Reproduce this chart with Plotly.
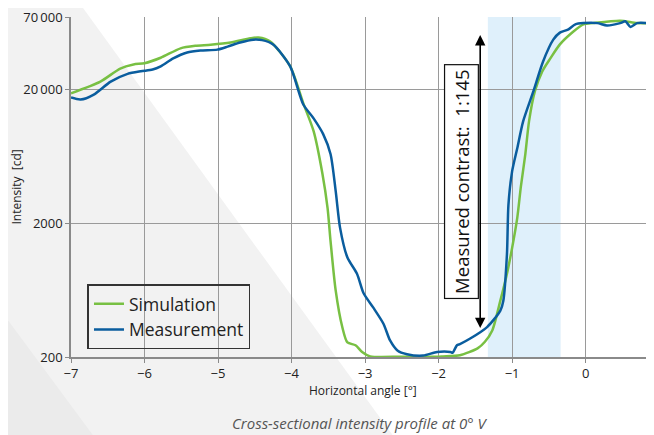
import math
import plotly.graph_objects as go

# ---- data ----
sim_x = [-7.0, -6.6, -6.33, -6.15, -6.0, -5.78, -5.51, -5.31, -5.10, -4.83, -4.56, -4.45, -4.29,
         -4.02, -3.84, -3.70, -3.58, -3.51, -3.47, -3.40, -3.31, -3.24, -3.13, -3.04, -2.93,
         -2.5, -2.0, -1.94, -1.71, -1.47, -1.37, -1.27, -1.16, -1.07, -1.0, -0.93, -0.88,
         -0.82, -0.77, -0.69, -0.59, -0.48, -0.35, -0.17, -0.03, 0.10, 0.47, 0.70, 0.93]
sim_y = [18800, 23000, 28800, 30900, 31600, 34700, 40800, 42600, 43400, 45100, 48500, 49100, 45800,
         30000, 15800, 9800, 4700, 2600, 1480, 630, 335, 257, 245, 218, 202,
         201, 201, 202, 206, 232, 260, 316, 528, 840, 1310, 2200, 3800,
         6600, 11600, 19500, 27400, 34300, 43700, 54300, 61700, 63000, 65600, 63000, 63000]

meas_x = [-7.0, -6.87, -6.69, -6.46, -6.23, -6.05, -5.89, -5.78, -5.61, -5.42, -5.24, -5.01, -4.87,
          -4.70, -4.52, -4.40, -4.25, -4.02, -3.84, -3.70, -3.57, -3.47, -3.40, -3.34, -3.24,
          -3.11, -3.02, -2.89, -2.75, -2.66, -2.56, -2.43, -2.21, -2.02, -1.84, -1.81, -1.75,
          -1.71, -1.57, -1.34, -1.16, -1.12, -1.07, -1.05, -1.0, -0.93, -0.85, -0.71, -0.58,
          -0.44, -0.35, -0.24, -0.14, -0.03, 0.16, 0.29, 0.47, 0.54, 0.61, 0.70, 0.84, 0.92]
meas_y = [17500, 16900, 18400, 23000, 26300, 27500, 28300, 29900, 34300, 38000, 39300, 39900, 42000,
          45100, 47400, 47000, 43600, 30000, 15500, 12200, 9300, 6600, 3500, 1850, 1110,
          840, 600, 470, 355, 266, 224, 210, 205, 218, 218, 215, 245,
          250, 275, 335, 445, 525, 1180, 2750, 4900, 7300, 11600, 19500, 32400,
          47400, 53500, 56300, 61700, 63000, 63000, 60500, 63000, 65000, 59000, 63000, 63000, 62000]

y_tickvals = [200, 2000, 20000, 70000]
y_ticktext = ["200", "2000", "20\u2009000", "70\u2009000"]
x_tickvals = [-7, -6, -5, -4, -3, -2, -1, 0]

band_x = [-1.33, -0.34]
contrast_top = 52600
contrast_bottom = 329
contrast_x = -1.434

GREEN = "#78c043"
BLUE = "#0a5d9e"

# page offset caused by the default body margin
OFF = 8
W, H = 654 - OFF, 435 - OFF
L, R, T, B = 70.5 - OFF, 0, 15.3 - OFF, 78
PW = W - L - R
PH = H - T - B


def px2paper(px, py):
    """page pixel -> paper coordinates"""
    fx, fy = px - OFF, py - OFF
    return (fx - L) / PW, (H - B - fy) / PH


def poly(points):
    pts = [px2paper(*p) for p in points]
    return "M " + " L ".join(f"{a:.4f},{b:.4f}" for a, b in pts) + " Z"


fig = go.Figure()
fig.add_trace(go.Scatter(x=sim_x, y=sim_y, mode="lines", name="Simulation",
                         line=dict(color=GREEN, width=2.5, shape="spline", smoothing=0.7)))
fig.add_trace(go.Scatter(x=meas_x, y=meas_y, mode="lines", name="Measurement",
                         line=dict(color=BLUE, width=2.5, shape="spline", smoothing=0.7)))

shapes = [
    dict(type="path", xref="paper", yref="paper", layer="below",
         path=poly([(0, 0), (78, 0), (392, 435), (392, 440), (0, 440)]),
         fillcolor="#f2f2f2", line=dict(width=0)),
    dict(type="path", xref="paper", yref="paper", layer="below",
         path=poly([(0, 310), (92, 435), (92, 440), (0, 440)]),
         fillcolor="#ebebeb", line=dict(width=0)),
    dict(type="rect", xref="x", yref="paper", layer="below",
         x0=band_x[0], x1=band_x[1], y0=0, y1=1,
         fillcolor="#dff0fb", line=dict(width=0)),
    dict(type="line", xref="x", yref="y", x0=-1.6, x1=-0.42,
         y0=math.log10(contrast_top), y1=math.log10(contrast_top),
         line=dict(color="black", width=1.2, dash="dash")),
]

annotations = [
    dict(x=contrast_x, y=math.log10(contrast_bottom), ax=contrast_x, ay=math.log10(contrast_top),
         xref="x", yref="y", axref="x", ayref="y", text="", showarrow=True,
         arrowside="end+start", arrowhead=2, arrowsize=1.3, arrowwidth=1.6, arrowcolor="black"),
    dict(x=-1.695, y=3.61, xref="x", yref="y", text="Measured contrast:  1:145",
         textangle=-90, showarrow=False, font=dict(size=18.5, color="#111"),
         xanchor="center", yanchor="middle",
         bgcolor="white", bordercolor="#111", borderwidth=1.2, borderpad=4),
    dict(x=px2paper(15, 0)[0], y=0.5, xref="paper", yref="paper", text="Intensity  [cd]",
         xanchor="center", yanchor="middle",
         textangle=-90, showarrow=False, font=dict(size=12, color="#222")),
    dict(x=0.5, y=px2paper(0, 391)[1], xref="paper", yref="paper", text="Horizontal angle [°]",
         xanchor="center", yanchor="middle",
         showarrow=False, font=dict(size=12, color="#222")),
    dict(x=px2paper(360, 0)[0], y=px2paper(0, 423)[1], xref="paper", yref="paper",
         text="<i>Cross-sectional intensity profile at 0° V</i>",
         xanchor="center", yanchor="middle",
         showarrow=False, font=dict(size=15, color="#555")),
]

fig.update_layout(
    width=W, height=H,
    margin=dict(l=L, r=R, t=T, b=B, pad=0),
    paper_bgcolor="white", plot_bgcolor="rgba(0,0,0,0)",
    font=dict(family="Open Sans", color="#222"),
    shapes=shapes, annotations=annotations,
    legend=dict(x=px2paper(87, 0)[0], y=px2paper(0, 284)[1], xanchor="left", yanchor="top",
                bgcolor="rgba(0,0,0,0)", bordercolor="#333", borderwidth=1.5,
                font=dict(size=17.5, color="#222"), tracegroupgap=0),
    showlegend=True,
)
fig.update_xaxes(range=[-7, 0.93], tickvals=x_tickvals, showgrid=True, gridcolor="#9a9a9a",
                 gridwidth=1, showline=True, linecolor="#8a8a8a", linewidth=1.5,
                 ticks="outside", ticklen=4, tickcolor="#8a8a8a", zeroline=False,
                 ticklabeloverflow="allow",
                 tickfont=dict(size=13, color="#222"))
fig.update_yaxes(type="log", range=[math.log10(200), math.log10(70000) + 1e-6],
                 tickvals=y_tickvals, ticktext=y_ticktext, showgrid=True, gridcolor="#9a9a9a",
                 gridwidth=1, showline=True, linecolor="#8a8a8a", linewidth=1.5,
                 ticks="outside", ticklen=4, tickcolor="#8a8a8a", zeroline=False,
                 ticklabeloverflow="allow",
                 tickfont=dict(size=13, color="#222"))

fig.write_html("out.html")
